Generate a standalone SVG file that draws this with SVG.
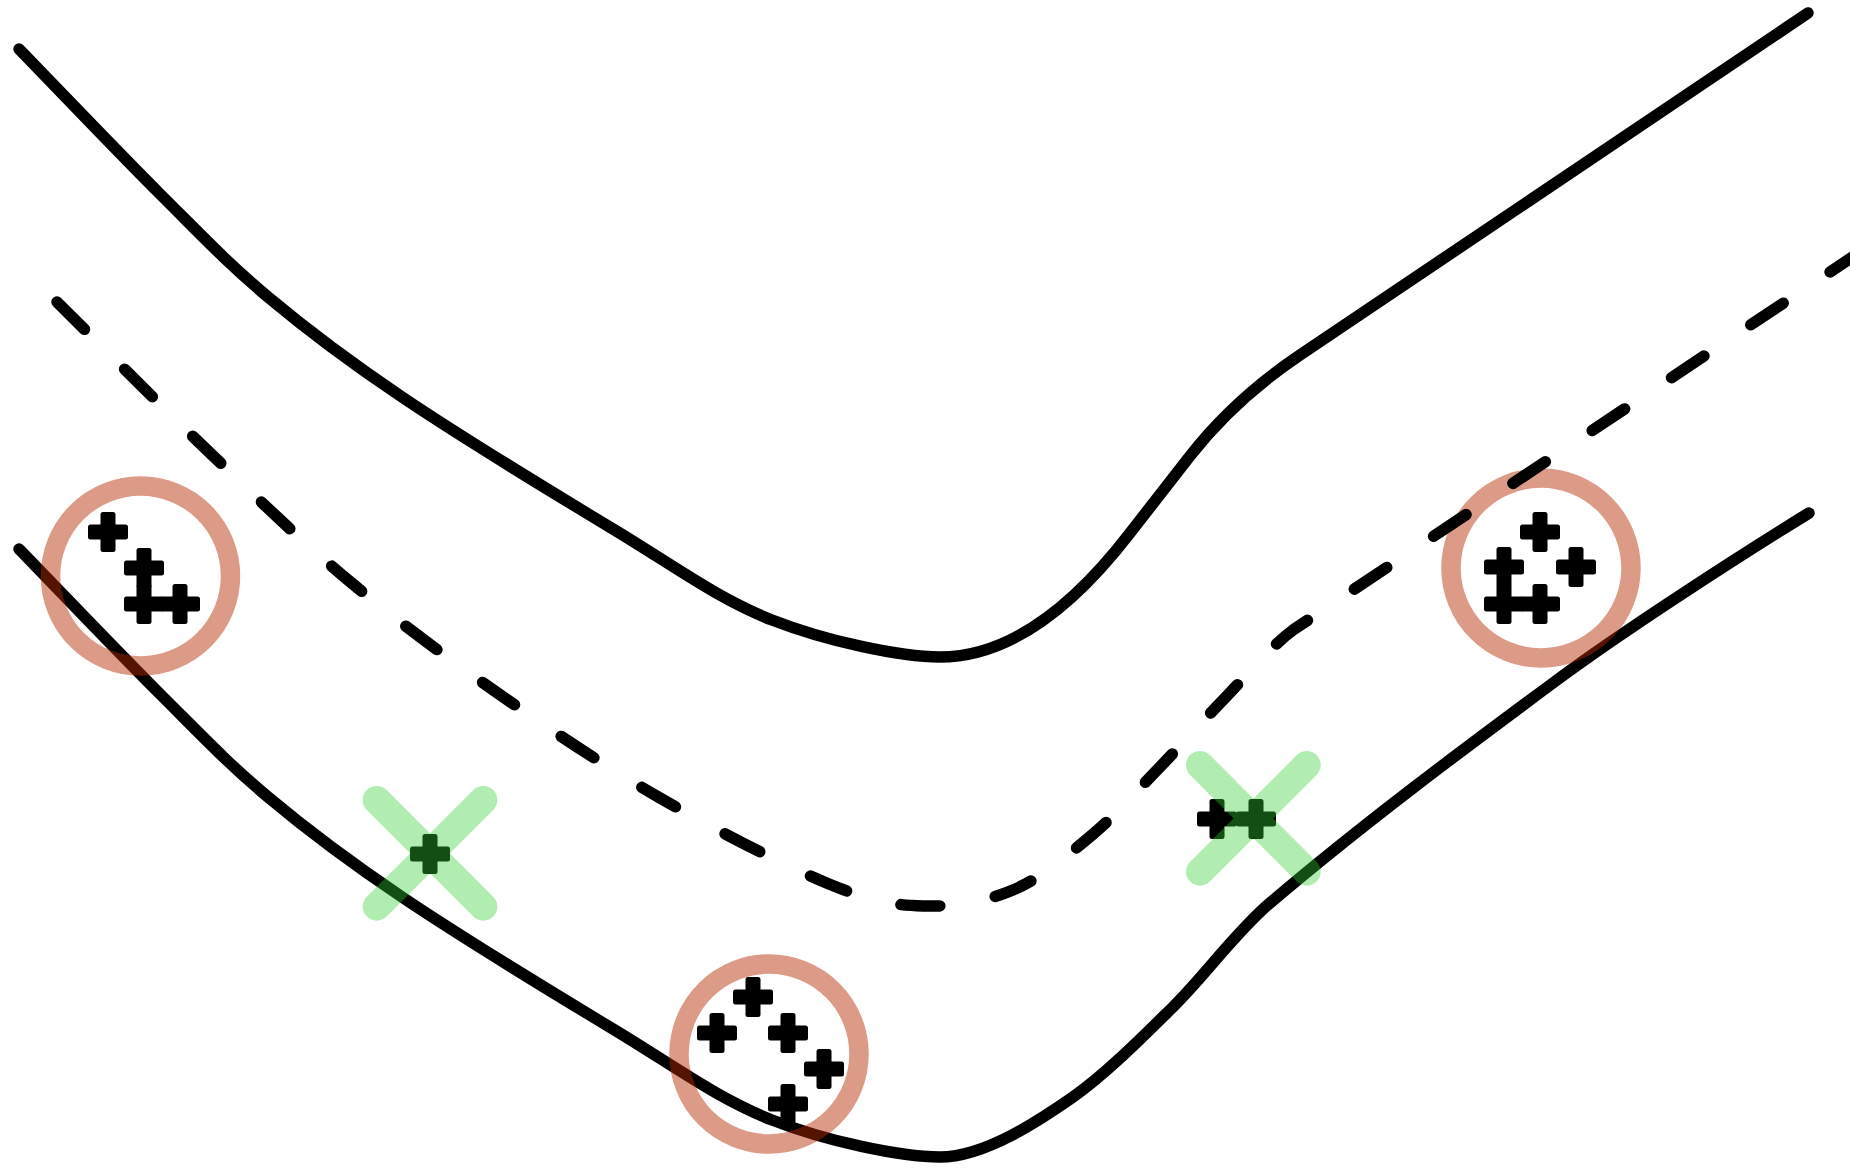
<svg xmlns="http://www.w3.org/2000/svg" xmlns:xlink="http://www.w3.org/1999/xlink" width="1850" height="1168" viewBox="0 0 1850 1168">
  <defs>
    <style>
      .edge { fill: none; stroke: #000; stroke-width: 11.5; stroke-linecap: round; stroke-linejoin: round; }
      .centre { fill: none; stroke: #000; stroke-width: 11.5; stroke-linecap: round; stroke-dasharray: 39 56.3; }
      .ring { fill: none; stroke: rgb(181,42,0); stroke-opacity: 0.47; stroke-width: 19.5; }
      .mark { fill: none; stroke: rgb(50,205,50); stroke-opacity: 0.38; stroke-width: 28; stroke-linecap: round; }
      .plus { fill: #000; }
    </style>
    <!-- one pedestrian marker: a rounded plus sign centred on the origin -->
    <g id="plus" class="plus">
      <rect x="-20" y="-7.5" width="40" height="15" rx="2.5"/>
      <rect x="-7.5" y="-20" width="15" height="40" rx="2.5"/>
    </g>
  </defs>

  <rect width="1850" height="1168" fill="#fff"/>

  <!-- road edges -->
  <g id="edges">
    <path class="edge" d="M19,49 C66.3,97.7 119.5,153.7 161,195 C202.5,236.3 227.8,263.3 268,297 C308.2,330.7 344.5,358.3 402,397 C459.5,435.7 551.3,491.8 613,529 C674.7,566.2 717.5,598.7 772,620 C826.5,641.3 900,657 940,657 C1020,657 1087.3,588.5 1130,533 L1190,456 C1219.6,418.1 1256.3,384.5 1300,355 L1808,13"/>
    <path class="edge" d="M19,549 C66.3,597.7 119.5,653.7 161,695 C202.5,736.3 227.8,763.3 268,797 C308.2,830.7 344.5,858.3 402,897 C459.5,935.7 551.3,991.8 613,1029 C674.7,1066.2 717.5,1098.7 772,1120 C826.5,1141.3 900,1157 940,1157 C985,1157 1040.2,1119.9 1073,1097 C1105.8,1074.1 1144.5,1035 1173,1007 C1205,975.5 1235.7,932.2 1270,903 C1361.4,825.2 1460.5,751.4 1557,680 C1624.5,630 1741,555 1809,513"/>
  </g>

  <!-- pedestrian clusters -->
  <g id="cluster-left">
    <use xlink:href="#plus" href="#plus" x="108" y="532"/>
    <use xlink:href="#plus" href="#plus" x="144" y="568"/>
    <use xlink:href="#plus" href="#plus" x="144" y="604"/>
    <use xlink:href="#plus" href="#plus" x="180" y="604"/>
    <circle class="ring" cx="140.5" cy="576" r="90"/>
  </g>

  <g id="cluster-right">
    <use xlink:href="#plus" href="#plus" x="1540" y="532"/>
    <use xlink:href="#plus" href="#plus" x="1504" y="567"/>
    <use xlink:href="#plus" href="#plus" x="1576" y="567"/>
    <use xlink:href="#plus" href="#plus" x="1504" y="604"/>
    <use xlink:href="#plus" href="#plus" x="1540" y="604"/>
    <circle class="ring" cx="1541" cy="568" r="90"/>
  </g>

  <g id="cluster-bottom">
    <use xlink:href="#plus" href="#plus" x="753" y="997"/>
    <use xlink:href="#plus" href="#plus" x="717" y="1033"/>
    <use xlink:href="#plus" href="#plus" x="788" y="1033"/>
    <use xlink:href="#plus" href="#plus" x="824" y="1069"/>
    <use xlink:href="#plus" href="#plus" x="788" y="1104"/>
    <circle class="ring" cx="769" cy="1054" r="90"/>
  </g>

  <!-- rejected positions -->
  <g id="reject-left">
    <use xlink:href="#plus" href="#plus" x="430" y="854"/>
    <path class="mark" d="M376.7,800 L483.3,906.7 M483.3,800 L376.7,906.7"/>
  </g>

  <g id="reject-right">
    <use xlink:href="#plus" href="#plus" x="1217" y="819"/>
    <use xlink:href="#plus" href="#plus" x="1256" y="819"/>
    <path class="mark" d="M1200,765 L1306.7,871.7 M1306.7,765 L1200,871.7"/>
  </g>

  <!-- lane centre line -->
  <g id="centre-line">
    <path class="centre" d="M57,302 C107.3,351.7 159.5,404.7 208,451 C256.5,497.3 299.5,539.5 348,580 C396.5,620.5 447,657.7 499,694 C551,730.3 605,766.3 660,798 C715,829.7 785.2,866 829,884 C872.8,902 892.3,905 923,906 C953.7,907 984.8,901.8 1013,890 C1041.2,878.2 1067.7,855.3 1092,835 C1116.3,814.7 1137,790.7 1159,768 C1181,745.3 1201.7,722 1224,699 C1246.3,676 1269,648 1293,630 L1860,252"/>
  </g>
</svg>
